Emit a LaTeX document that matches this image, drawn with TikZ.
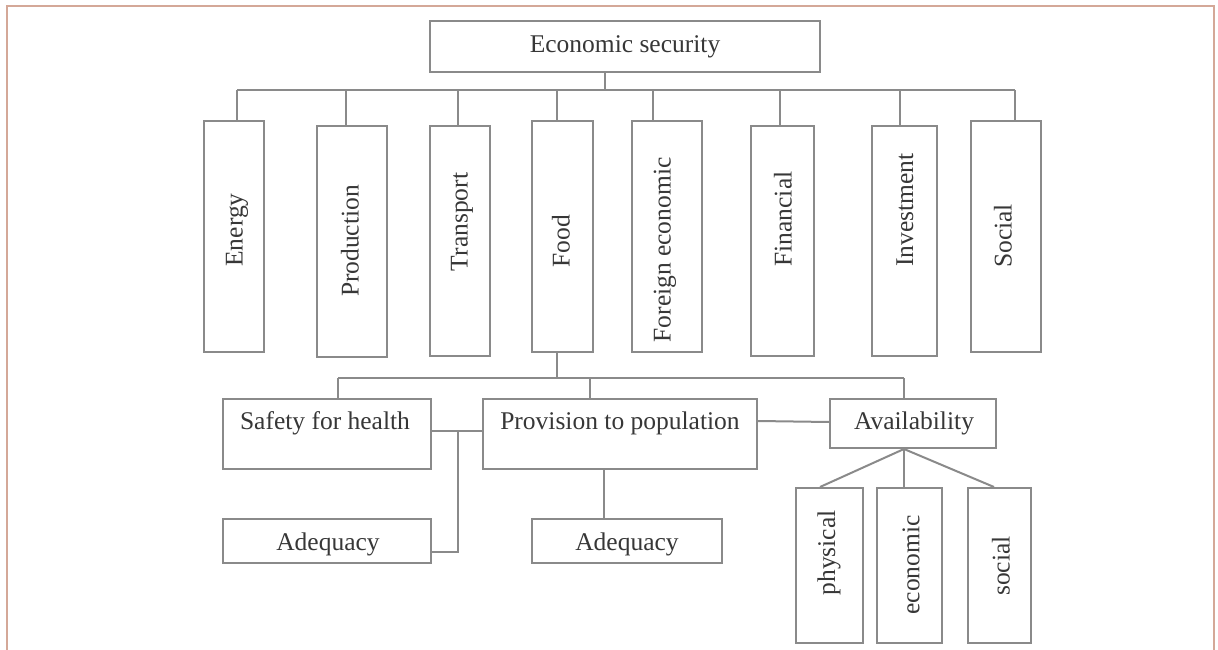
\documentclass[tikz,border=0pt]{standalone}
\usepackage{fontspec}
\setmainfont{Liberation Serif}
\definecolor{framec}{RGB}{212,168,152}
\definecolor{linec}{RGB}{138,138,138}
\definecolor{textc}{RGB}{55,55,55}
\begin{document}
\begin{tikzpicture}[x=1pt,y=-1pt,
  box/.style={draw=linec,line width=2pt,rectangle,inner sep=0pt,fill=white},
  conn/.style={draw=linec,line width=2pt},
  lbl/.style={inner sep=0pt,text=textc,font=\fontsize{25.5}{30}\selectfont},
  vlbl/.style={lbl,rotate=90}]
\useasboundingbox (0,0) rectangle (1218,650);
\draw[framec,line width=2pt] (6.5,652) -- (6.5,6) -- (1214,6) -- (1214,652);

% top
\node[box,minimum width=390,minimum height=51] (top) at (625,46.5) {};
\node[lbl] (ttop) at (625,47) {Economic security};

% second level boxes
\node[box,minimum width=60,minimum height=231] (energy) at (234,236.5) {};
\node[box,minimum width=70,minimum height=231] (production) at (352,241.5) {};
\node[box,minimum width=60,minimum height=230] (transport) at (460,241) {};
\node[box,minimum width=61,minimum height=231] (food) at (562,236.5) {};
\node[box,minimum width=70,minimum height=231] (foreign) at (667,236.5) {};
\node[box,minimum width=63,minimum height=230] (financial) at (782,241) {};
\node[box,minimum width=65,minimum height=230] (investment) at (904,241) {};
\node[box,minimum width=70,minimum height=231] (social) at (1006,236.5) {};

\node[vlbl] (tenergy) at (237,230) {Energy};
\node[vlbl] (tproduction) at (350,241) {Production};
\node[vlbl] (ttransport) at (462,222) {Transport};
\node[vlbl] (tfood) at (561,241) {Food};
\node[vlbl] (tforeign) at (665,250) {Foreign economic};
\node[vlbl] (tfinancial) at (783,219) {Financial};
\node[vlbl] (tinvestment) at (905,210) {Investment};
\node[vlbl] (tsocial) at (1003,236) {Social};

% bus 1
\coordinate (bus) at (0,90);
\coordinate (busL) at (237,90);
\coordinate (busR) at (1015,90);
\draw[conn] (busL) -- (busR);
\draw[conn] ([xshift=-20pt]top.south) -- ([xshift=-20pt]top.south |- bus);
\draw[conn] ([xshift=3pt]energy.north) -- ([xshift=3pt]energy.north |- bus);
\draw[conn] ([xshift=-6pt]production.north) -- ([xshift=-6pt]production.north |- bus);
\draw[conn] ([xshift=-2pt]transport.north) -- ([xshift=-2pt]transport.north |- bus);
\draw[conn] ([xshift=-5pt]food.north) -- ([xshift=-5pt]food.north |- bus);
\draw[conn] ([xshift=-14pt]foreign.north) -- ([xshift=-14pt]foreign.north |- bus);
\draw[conn] ([xshift=-2pt]financial.north) -- ([xshift=-2pt]financial.north |- bus);
\draw[conn] ([xshift=-4pt]investment.north) -- ([xshift=-4pt]investment.north |- bus);
\draw[conn] ([xshift=9pt]social.north) -- ([xshift=9pt]social.north |- bus);

% third level
\node[box,minimum width=208,minimum height=70] (safety) at (327,434) {};
\node[box,minimum width=274,minimum height=70] (provision) at (620,434) {};
\node[box,minimum width=208,minimum height=44] (adeqA) at (327,541) {};
\node[box,minimum width=190,minimum height=44] (adeqB) at (627,541) {};
\node[box,minimum width=166,minimum height=49] (avail) at (913,423.5) {};
\node[box,minimum width=67,minimum height=155] (physical) at (829,565.5) {};
\node[box,minimum width=65,minimum height=155] (economic) at (909,565.5) {};
\node[box,minimum width=63,minimum height=155] (socialb) at (999,565.5) {};

\node[lbl] (tsafety) at (325,423) {Safety for health};
\node[lbl] (tprovision) at (620,423) {Provision to population};
\node[lbl] (tadeqA) at (328,544) {Adequacy};
\node[lbl] (tadeqB) at (627,544) {Adequacy};
\node[lbl] (tavail) at (914,423) {Availability};
\node[vlbl] (tphysical) at (829,553) {physical};
\node[vlbl] (teconomic) at (911,565) {economic};
\node[vlbl] (tsocialb) at (1001,566) {social};

% bus 2
\coordinate (bustwo) at (0,378);
\draw[conn] ([xshift=-5pt]food.south) -- ([xshift=-5pt]food.south |- bustwo);
\draw[conn] ([xshift=11pt]safety.north |- bustwo) -- ([xshift=-9pt]avail.north |- bustwo);
\draw[conn] ([xshift=11pt]safety.north) -- ([xshift=11pt]safety.north |- bustwo);
\draw[conn] ([xshift=-30pt]provision.north) -- ([xshift=-30pt]provision.north |- bustwo);
\draw[conn] ([xshift=-9pt]avail.north) -- ([xshift=-9pt]avail.north |- bustwo);

% safety - provision - adequacy
\coordinate (j) at (458,431);
\draw[conn] ([yshift=3pt]safety.east) -- ([yshift=3pt]provision.west);
\draw[conn] (j) |- ([yshift=-11pt]adeqA.east);
\draw[conn] ([xshift=-16pt]provision.south) -- ([xshift=-16pt]provision.south |- adeqB.north);
\draw[conn] ([yshift=13pt]provision.east) -- ([yshift=1.5pt]avail.west);

% fan
\draw[conn] ([xshift=-9pt]avail.south) -- ([xshift=-9pt]physical.north);
\draw[conn] ([xshift=-9pt]avail.south) -- ([xshift=-5pt]economic.north);
\draw[conn] ([xshift=-9pt]avail.south) -- ([xshift=-5pt]socialb.north);
\end{tikzpicture}
\end{document}
